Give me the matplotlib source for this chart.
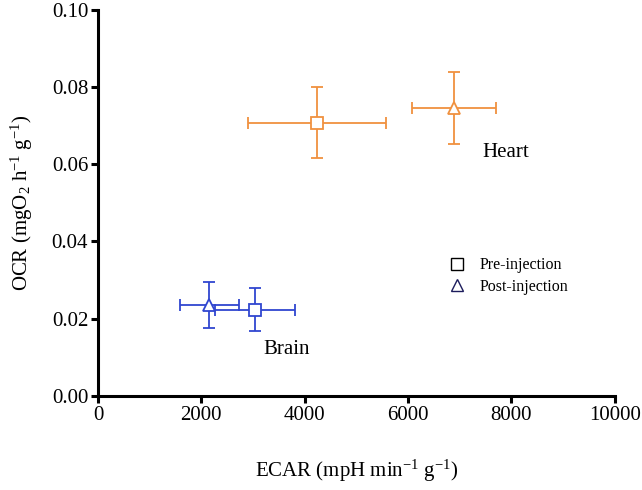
import matplotlib
matplotlib.use("Agg")
import matplotlib.pyplot as plt
from matplotlib.lines import Line2D

# data
groups = ["Heart", "Heart", "Brain", "Brain"]
conditions = ["Pre-injection", "Post-injection", "Pre-injection", "Post-injection"]
ecar = [4240, 6890, 3040, 2150]
ecar_err = [1330, 810, 770, 570]
ocr = [0.0708, 0.0746, 0.0223, 0.0236]
ocr_err = [0.0091, 0.0093, 0.0056, 0.0059]

plt.rcParams['font.family'] = ['Liberation Serif', 'DejaVu Serif']
plt.rcParams['mathtext.fontset'] = 'custom'
plt.rcParams['mathtext.rm'] = 'Liberation Serif'
plt.rcParams['mathtext.default'] = 'regular'

colors = {"Heart": "#F0913F", "Brain": "#3046D0"}
markers = {"Pre-injection": "s", "Post-injection": "^"}

fig = plt.figure(figsize=(6.42, 4.9), dpi=100)
ax = fig.add_axes([0.1526, 0.192, 0.805, 0.788])

for g, c, x, xe, y, ye in zip(groups, conditions, ecar, ecar_err, ocr, ocr_err):
    ax.errorbar(x, y, xerr=xe, yerr=ye, fmt=markers[c], color=colors[g],
                mfc='white', mec=colors[g], ms=9, mew=1.3, elinewidth=1.3,
                capsize=4.5, capthick=1.3, zorder=3)

ax.text(7440, 0.0631, "Heart", fontsize=15, va='center', ha='left')
ax.text(3200, 0.0121, "Brain", fontsize=15, va='center', ha='left')

handles = [Line2D([], [], ls='none', marker='s', mfc='white', mec='black', ms=9, mew=1.0),
           Line2D([], [], ls='none', marker='^', mfc='white', mec='#1c1c5c', ms=9, mew=1.0)]
ax.legend(handles, ["Pre-injection", "Post-injection"], loc='center left',
          bbox_to_anchor=(0.652, 0.31), frameon=False, fontsize=11.5,
          handlelength=1.0, handletextpad=0.9, labelspacing=0.35)

ax.set_xlim(0, 10000)
ax.set_ylim(0, 0.10)
ax.set_xticks([0, 2000, 4000, 6000, 8000, 10000])
ax.set_yticks([0.00, 0.02, 0.04, 0.06, 0.08, 0.10])
ax.set_yticklabels(["0.00", "0.02", "0.04", "0.06", "0.08", "0.10"])

for s in ['top', 'right']:
    ax.spines[s].set_visible(False)
for s in ['left', 'bottom']:
    ax.spines[s].set_linewidth(2.2)
ax.tick_params(axis='both', direction='out', length=5, width=2.2, labelsize=15, pad=2)

ax.set_xlabel("ECAR (mpH min$^{-1}$ g$^{-1}$)", fontsize=15, labelpad=24)
ax.set_ylabel("OCR (mgO$_2$ h$^{-1}$ g$^{-1}$)", fontsize=15, labelpad=12)

fig.savefig("out.png", dpi=100)
